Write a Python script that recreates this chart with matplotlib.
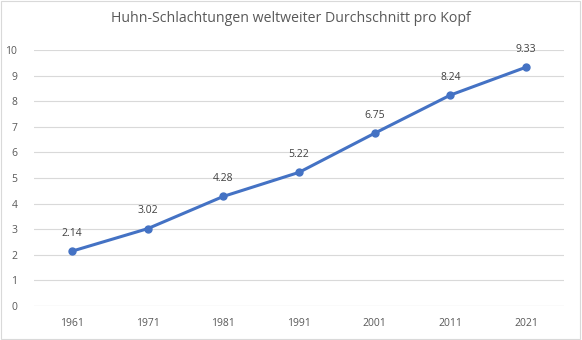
import numpy as np
import matplotlib.pyplot as plt

years = ["1961", "1971", "1981", "1991", "2001", "2011", "2021"]
per_capita = [2.14, 3.02, 4.28, 5.22, 6.75, 8.24, 9.33]
y_ticks = list(range(0, 11))

grey = "#595959"
blue = "#4472C4"

plt.rcParams['font.family'] = ['Open Sans', 'DejaVu Sans']

fig = plt.figure(figsize=(5.82, 3.4), dpi=100)
ax = fig.add_axes([34 / 582, 1 - 306 / 340, 530 / 582, 256 / 340])

x = np.arange(len(years))
ax.plot(x, per_capita, color=blue, lw=2.2, marker="o", ms=5, zorder=3)
for xi, v in zip(x, per_capita):
    ax.annotate(f"{v:.2f}", (xi, v), xytext=(0, 9), textcoords="offset points",
                ha="center", va="bottom", fontsize=7.5, color="#404040")

ax.set_xlim(-0.5, len(years) - 0.5)
ax.set_ylim(0, 10)
ax.set_xticks(x)
ax.set_xticklabels(years)
ax.set_yticks(y_ticks)
ax.tick_params(axis="both", length=0, labelsize=7.5, labelcolor=grey)
ax.tick_params(axis="x", pad=9)
ax.tick_params(axis="y", pad=12)
ax.grid(axis="y", color="#d9d9d9", lw=0.8)
ax.set_axisbelow(True)
for s in ax.spines.values():
    s.set_visible(False)
ax.axhline(0, color="#d9d9d9", lw=0.8, zorder=1)

fig.text(0.5, 1 - 18 / 340, "Huhn-Schlachtungen weltweiter Durchschnitt pro Kopf",
         ha="center", va="center", fontsize=10.2, color=grey)

# thin frame around the whole chart
fig.patches.append(plt.Rectangle((0.002, 0.003), 0.995, 0.994, transform=fig.transFigure,
                                 fill=False, edgecolor="#d9d9d9", lw=0.8))

fig.savefig("out.png", dpi=100)
